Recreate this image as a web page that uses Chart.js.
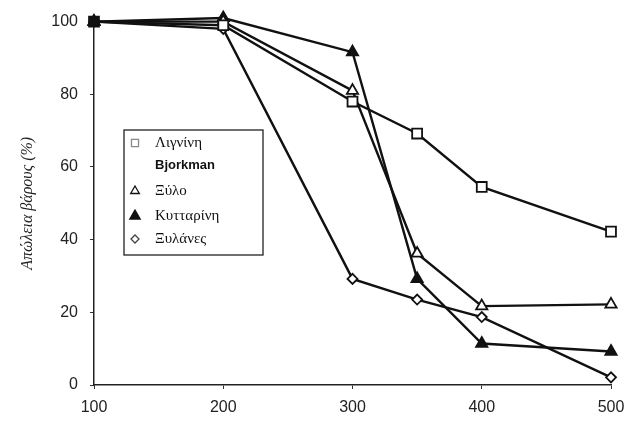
<!DOCTYPE html>
<html>
<head>
<meta charset="utf-8">
<script src="https://cdn.jsdelivr.net/npm/chart.js@4/dist/chart.umd.min.js"></script>
<style>
  html, body { margin: 0; padding: 0; background: #fff; }
  #wrap { width: 637px; height: 422px; }
</style>
</head>
<body>
<div id="wrap"><canvas id="grafik"></canvas></div>
<script>
// θερμοκρασίες (°C)
const temps = [100, 200, 300, 350, 400, 500];
const xTicks = [100, 200, 300, 400, 500];
const yTicks = [0, 20, 40, 60, 80, 100];

// απώλεια βάρους (%)
const ligninBjorkman = [100, 99, 78, 69.2, 54.5, 42.2];
const xylo = [100, 100, 81, 36.2, 21.7, 22.2];
const kyttarini = [100, 101, 91.6, 29.2, 11.4, 9.2];
const xylanes = [100, 98, 29.2, 23.5, 18.7, 2.1];

const labels = [["Λιγνίνη", "Bjorkman"], "Ξύλο", "Κυτταρίνη", "Ξυλάνες"];

const pts = (arr) => temps.map((t, i) => ({ x: t, y: arr[i] }));

function serie(label, data, style, radius, fill) {
    return {
        label: label,
        data: pts(data),
        borderColor: "#111",
        borderWidth: 2.4,
        pointStyle: style,
        pointRadius: radius,
        // το πρώτο σημείο φαίνεται γεμάτο (όλα πέφτουν μαζί)
        pointBackgroundColor: (c) => (c.dataIndex === 0 ? "#111" : fill),
        pointBorderColor: "#111",
        pointBorderWidth: 1.8,
        clip: false,
        tension: 0,
    };
}

// υπόμνημα μέσα στο γράφημα
const boxLegend = {
    id: "boxLegend",
    afterDraw(chart) {
        const ctx = chart.ctx;
        ctx.save();
        ctx.strokeStyle = "#222";
        ctx.lineWidth = 1.3;
        ctx.strokeRect(124, 130, 139, 125);
        const rows = [143, 191, 216, 239];
        const marks = [
            { style: "rect", r: 5, fill: "#fff", color: "#888" },
            { style: "triangle", r: 5, fill: "#fff", color: "#111" },
            { style: "triangle", r: 6, fill: "#111", color: "#111" },
            { style: "rectRot", r: 4, fill: "#fff", color: "#444" },
        ];
        const normal = "15px 'Liberation Serif', serif";
        ctx.textBaseline = "middle";
        chart.data.datasets.forEach((ds, i) => {
            const m = marks[i];
            ctx.fillStyle = m.fill;
            ctx.strokeStyle = m.color;
            ctx.lineWidth = 1.3;
            Chart.helpers.drawPoint(ctx, { pointStyle: m.style, radius: m.r, borderWidth: 1.3 }, 135, rows[i]);
            ctx.fillStyle = "#111";
            const lines = Array.isArray(ds.label) ? ds.label : [ds.label];
            lines.forEach((t, j) => {
                ctx.font = j > 0 ? "bold 13px 'Liberation Sans', sans-serif" : normal;
                ctx.fillText(t, 155, rows[i] + j * 22);
            });
        });
        ctx.restore();
    },
};

new Chart(document.getElementById("grafik"), {
    type: "line",
    data: {
        datasets: [
            serie(labels[0], ligninBjorkman, "rect", 7, "#fff"),
            serie(labels[1], xylo, "triangle", 6.5, "#fff"),
            serie(labels[2], kyttarini, "triangle", 6.5, "#111"),
            serie(labels[3], xylanes, "rectRot", 5, "#fff"),
        ],
    },
    options: {
        responsive: true,
        maintainAspectRatio: false,
        animation: false,
        layout: { padding: { top: 18, right: 26, left: 0, bottom: 0 } },
        plugins: {
            legend: { display: false },
            tooltip: { enabled: false },
        },
        scales: {
            x: {
                type: "linear",
                min: 100,
                max: 500,
                afterFit: (s) => { s.height = 37; },
                afterBuildTicks: (s) => { s.ticks = xTicks.map((v) => ({ value: v })); },
                grid: { display: true, drawOnChartArea: false, tickLength: 4, color: "#333" },
                border: { color: "#222", width: 1.5 },
                ticks: {
                    color: "#222",
                    padding: 9,
                    font: { family: "'Liberation Sans', Arial, sans-serif", size: 16 },
                },
            },
            y: {
                min: 0,
                max: 100,
                afterFit: (s) => { s.width = 94; },
                afterBuildTicks: (s) => { s.ticks = yTicks.map((v) => ({ value: v })); },
                grid: { display: true, drawOnChartArea: false, tickLength: 4, color: "#333" },
                border: { color: "#222", width: 1.5 },
                ticks: {
                    color: "#222",
                    padding: 12,
                    font: { family: "'Liberation Sans', Arial, sans-serif", size: 16 },
                },
                title: {
                    display: true,
                    text: "Απώλεια βάρους (%)",
                    color: "#222",
                    padding: { top: 18, bottom: 0 },
                    font: { family: "'Liberation Serif', serif", size: 16, style: "italic" },
                },
            },
        },
    },
    plugins: [boxLegend],
});
</script>
</body>
</html>
